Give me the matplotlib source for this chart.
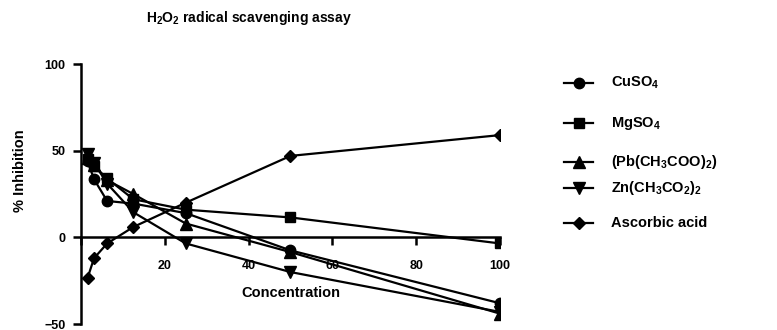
import numpy as np
import matplotlib
matplotlib.use('Agg')
import matplotlib.pyplot as plt
from matplotlib.lines import Line2D

plt.rcParams['font.family'] = ['Liberation Sans', 'DejaVu Sans']
plt.rcParams['font.weight'] = 'bold'
plt.rcParams['mathtext.fontset'] = 'custom'
plt.rcParams['mathtext.rm'] = 'Liberation Sans:bold'
plt.rcParams['mathtext.it'] = 'Liberation Sans:bold'
plt.rcParams['mathtext.bf'] = 'Liberation Sans:bold'
plt.rcParams['mathtext.default'] = 'rm'

# concentrations (serial dilution)
conc = [1.5625, 3.125, 6.25, 12.5, 25, 50, 100]

# % inhibition for each sample
cuso4 = [44, 33.5, 21, 19.5, 14, -7.5, -38]
mgso4 = [45, 41, 34, 22, 16, 11.5, -3.5]
pb_acetate = [46, 42, 33, 25, 8, -8.5, -44]
zn_acetate = [48, 43, 31, 14.5, -3.5, -20, -43]
ascorbic = [-23.5, -12, -3.5, 6, 20, 47, 59]

labels = ['CuSO$_4$', 'MgSO$_4$', '(Pb(CH$_3$COO)$_2$)',
          'Zn(CH$_3$CO$_2$)$_2$', 'Ascorbic acid']
series = [cuso4, mgso4, pb_acetate, zn_acetate, ascorbic]
markers = ['o', 's', '^', 'v', 'D']
msizes = [7.5, 7.5, 8, 8, 6.2]

fig = plt.figure(figsize=(7.77, 3.3), dpi=100)
ax = fig.add_axes([0.1042, 0.018, 0.5393, 0.788])

for vals, m, ms in zip(series, markers, msizes):
    ax.plot(conc, vals, color='black', lw=1.6, marker=m, ms=ms)

ax.set_xlim(0, 100)
ax.set_ylim(-50, 100)
ax.spines['top'].set_visible(False)
ax.spines['right'].set_visible(False)
ax.spines['bottom'].set_position(('data', 0))
ax.spines['left'].set_linewidth(1.8)
ax.spines['bottom'].set_linewidth(1.8)
ax.set_xticks([0, 20, 40, 60, 80, 100])
ax.set_xticklabels(['', '20', '40', '60', '80', '100'])
ax.set_yticks([-50, 0, 50, 100])
ax.tick_params(axis='both', direction='out', length=6, width=1.8,
               labelsize=9, pad=5)
ax.tick_params(axis='x', pad=10)
for t in ax.get_xticklabels() + ax.get_yticklabels():
    t.set_fontweight('bold')

ax.set_xlabel('Concentration', fontsize=10.5, fontweight='bold')
ax.xaxis.set_label_coords(0.5, 0.12)
ax.xaxis.label.set_va('center')
ax.set_ylabel('% Inhibition', fontsize=10.5, fontweight='bold')
ax.yaxis.set_label_coords(-0.145, 0.59)
ax.yaxis.label.set_va('center')

fig.text(249 / 777, 1 - 18 / 330, 'H$_2$O$_2$ radical scavenging assay',
         ha='center', va='center', fontsize=10, fontweight='bold')

# legend drawn by hand to match uneven spacing
leg_y = [83, 123, 162, 188, 223]
for lab, m, ms, yy in zip(labels, markers, msizes, leg_y):
    fy = 1 - yy / 330
    fig.add_artist(Line2D([564 / 777, 593 / 777], [fy, fy], color='black',
                          lw=1.6, transform=fig.transFigure))
    fig.add_artist(Line2D([578.5 / 777], [fy], color='black', marker=m,
                          ms=ms, transform=fig.transFigure))
    fig.text(611 / 777, fy, lab, ha='left', va='center', fontsize=10.5,
             fontweight='bold')

fig.savefig('out.png', dpi=100)
